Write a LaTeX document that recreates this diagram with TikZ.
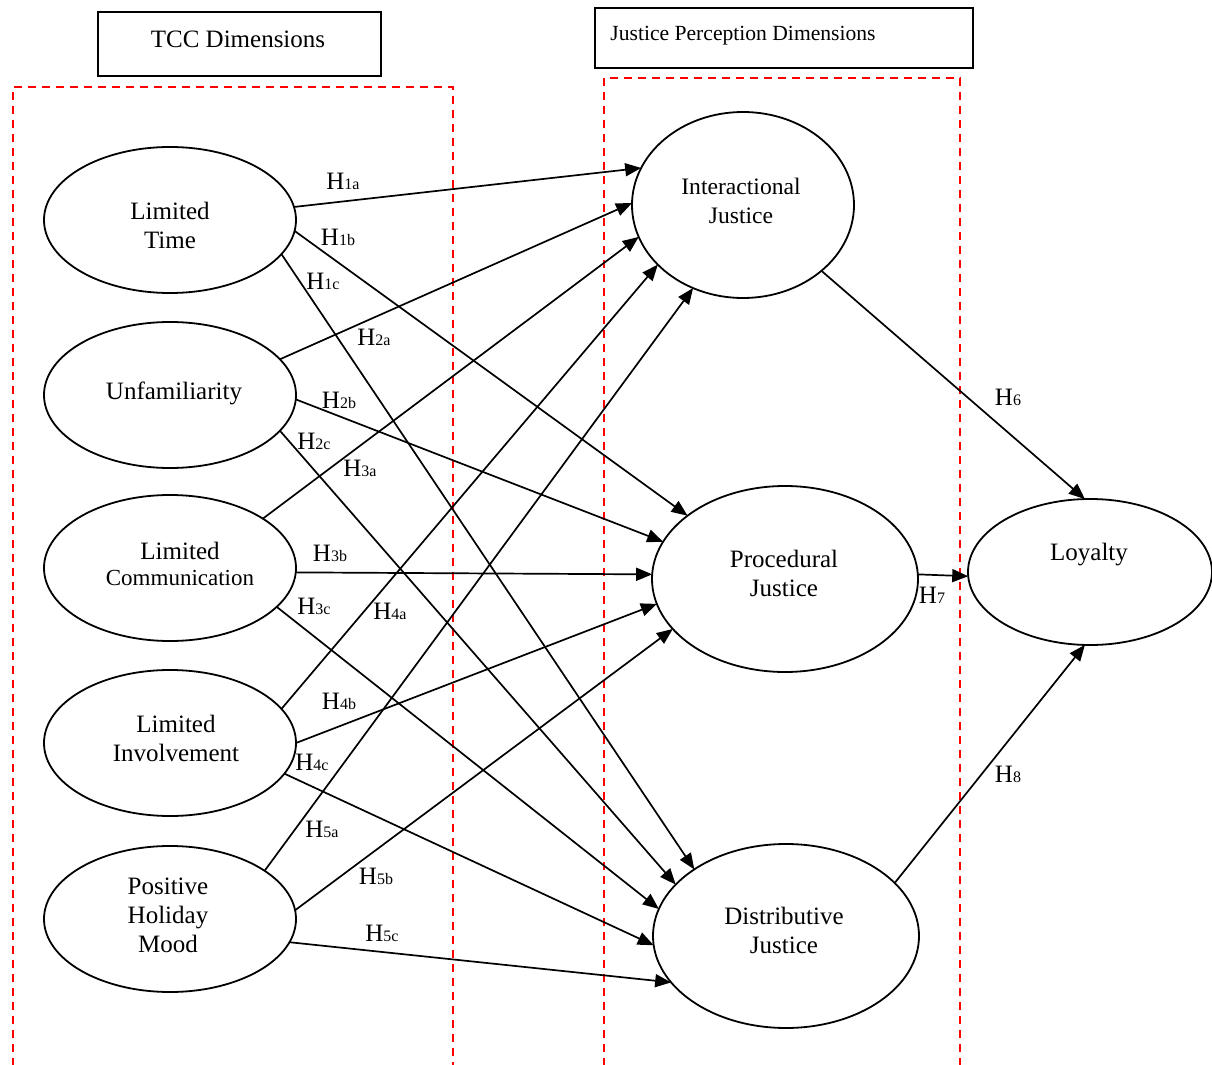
\documentclass[tikz,border=0pt]{standalone}
\usepackage{fontspec}
\setmainfont{Liberation Serif}
\usetikzlibrary{arrows.meta,shapes.geometric}
\newcommand{\hsub}[1]{{\fontsize{8}{8}\selectfont #1}}
\begin{document}
\begin{tikzpicture}[x=0.5pt,y=-0.5pt,
  ell/.style={draw, line width=0.9pt, ellipse, inner sep=0pt, outer sep=0pt},
  lbl/.style={font=\fontsize{12.5}{14.5}\selectfont, align=center, inner sep=0pt},
  hyp/.style={font=\fontsize{12.5}{14}\selectfont, inner sep=0pt},
  arr/.style={line width=0.85pt, -{Triangle[length=8pt,width=6.5pt]}},
  redbox/.style={draw=red, line width=0.7pt, dash pattern=on 4pt off 3pt},
  titlebox/.style={draw, line width=1pt, rectangle, inner sep=0pt, outer sep=0pt}]
\useasboundingbox (0,0) rectangle (1212,1065);
\clip (0,0) rectangle (1212,1065);

% title boxes
\node[titlebox, minimum width=141.5pt, minimum height=32pt] (tccbox) at (239.5,44) {};
\node[lbl] (tcct) at (238,39) {TCC Dimensions};
\node[titlebox, minimum width=189pt, minimum height=30pt] (jpbox) at (784,38) {};
\node[lbl, font=\fontsize{10.8}{13}\selectfont] (jpt) at (743,36) {Justice Perception Dimensions};

% red dashed groups
\draw[redbox] (13,1080) -- (13,87) -- (453,87) -- (453,1080);
\draw[redbox] (604,1080) -- (604,78) -- (960,78) -- (960,1080);

% left ellipses
\node[ell, minimum width=126pt, minimum height=73pt] (lt) at (170,220) {};
\node[ell, minimum width=126pt, minimum height=73pt] (uf) at (170,395) {};
\node[ell, minimum width=126pt, minimum height=73pt] (lc) at (170,568) {};
\node[ell, minimum width=126pt, minimum height=73pt] (li) at (170,743) {};
\node[ell, minimum width=126pt, minimum height=73pt] (ph) at (170,919) {};
\node[lbl] (ltt) at (170,225) {Limited\\Time};
\node[lbl] (uft) at (174,393) {Unfamiliarity};
\node[lbl, font=\fontsize{12.5}{13}\selectfont] (lct) at (180,564) {Limited\\{\fontsize{11.5}{13}\selectfont Communication}};
\node[lbl] (lit) at (176,738) {Limited\\Involvement};
\node[lbl] (pht) at (168,915) {Positive\\Holiday\\Mood};

% right ellipses
\node[ell, minimum width=111pt, minimum height=93pt] (ij) at (743,205) {};
\node[ell, minimum width=133pt, minimum height=93pt] (pj) at (785,579) {};
\node[ell, minimum width=133pt, minimum height=92pt] (dj) at (786,936) {};
\node[ell, minimum width=122pt, minimum height=73pt] (ly) at (1090,572) {};
\node[lbl, font=\fontsize{11.8}{14.5}\selectfont] (ijt) at (741,201) {Interactional\\Justice};
\node[lbl] (pjt) at (784,573) {Procedural\\Justice};
\node[lbl] (djt) at (784,930) {Distributive\\Justice};
\node[lbl] (lyt) at (1089,555) {Loyalty};

% connectors
\draw[arr] (lt.6) -- (ij.160);
\draw[arr] (lt.-5) -- (pj.147);
\draw[arr] (lt.-17) -- (dj.144);
\draw[arr] (uf.18) -- (ij.179);
\draw[arr] (uf.-2) -- (pj.163);
\draw[arr] (uf.-18) -- (dj.155);
\draw[arr] (lc.28) -- (ij.197);
\draw[arr] (lc.-2) -- (pj.178);
\draw[arr] (lc.-20) -- (dj.168);
\draw[arr] (li.17) -- (ij.215);
\draw[arr] (li.0) -- (pj.191);
\draw[arr] (li.-15) -- (dj.184);
\draw[arr] (ph.27) -- (ij.239);
\draw[arr] (ph.4) -- (pj.204);
\draw[arr] (ph.-11) -- (dj.202);
\draw[arr] (ij.-40) -- (ly.94);
\draw[arr] (pj.2) -- (ly.182);
\draw[arr] (dj.26) -- (ly.266);

% hypothesis labels
\node[hyp] (h1a) at (343,181) {H\hsub{1a}};
\node[hyp] (h1b) at (338,237) {H\hsub{1b}};
\node[hyp] (h1c) at (323,281) {H\hsub{1c}};
\node[hyp] (h2a) at (374,337) {H\hsub{2a}};
\node[hyp] (h2b) at (339,400) {H\hsub{2b}};
\node[hyp] (h2c) at (314,441) {H\hsub{2c}};
\node[hyp] (h3a) at (360,468) {H\hsub{3a}};
\node[hyp] (h3b) at (330,553) {H\hsub{3b}};
\node[hyp] (h3c) at (314,606) {H\hsub{3c}};
\node[hyp] (h4a) at (390,611) {H\hsub{4a}};
\node[hyp] (h4b) at (339,701) {H\hsub{4b}};
\node[hyp] (h4c) at (312,762) {H\hsub{4c}};
\node[hyp] (h5a) at (322,829) {H\hsub{5a}};
\node[hyp] (h5b) at (376,876) {H\hsub{5b}};
\node[hyp] (h5c) at (382,933) {H\hsub{5c}};
\node[hyp] (h6) at (1008,397) {H\hsub{6}};
\node[hyp] (h7) at (932,595) {H\hsub{7}};
\node[hyp] (h8) at (1008,774) {H\hsub{8}};
\end{tikzpicture}
\end{document}
